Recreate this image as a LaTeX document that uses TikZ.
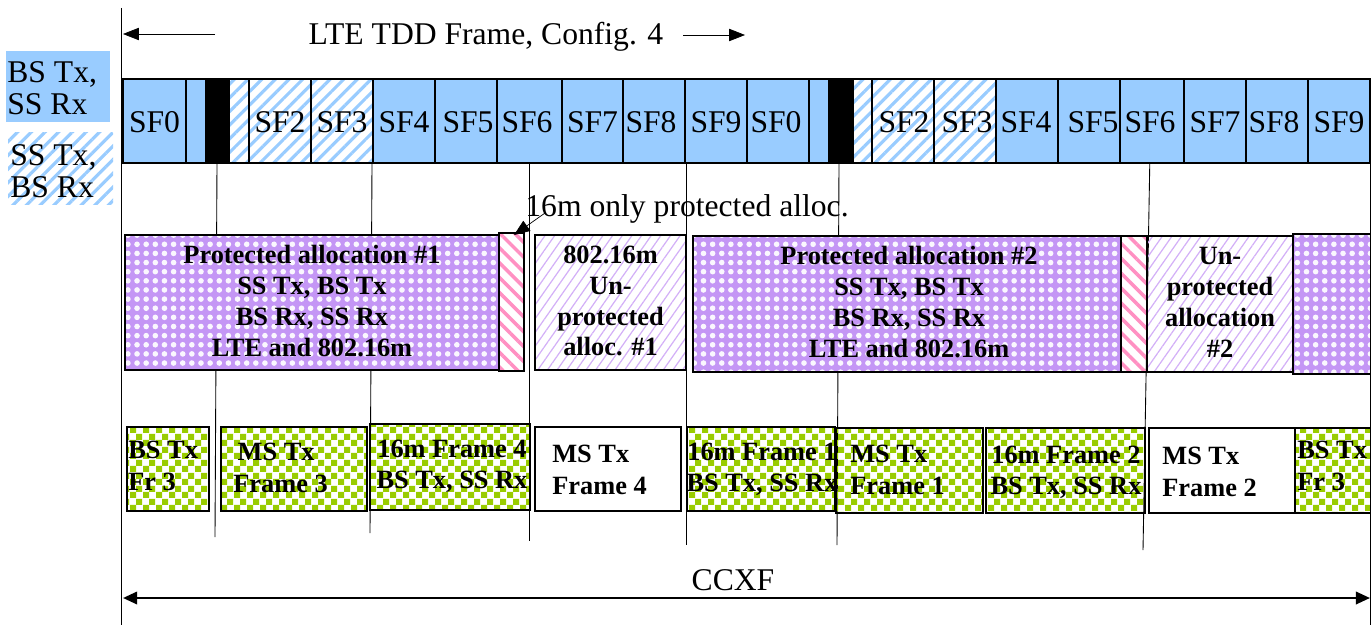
\documentclass[tikz,border=0pt]{standalone}
\usepackage{fontspec}
\setmainfont{Liberation Serif}
\usetikzlibrary{patterns,patterns.meta,arrows.meta}
\definecolor{sfblue}{HTML}{99CCFF}
\definecolor{allocpurple}{HTML}{C496F5}
\definecolor{hatchpurple}{HTML}{D3B0F7}
\definecolor{guardpink}{HTML}{FF90C2}
\definecolor{frgreen}{HTML}{99CC00}
\pgfdeclarepatternformonly{greenchecks}{\pgfpointorigin}{\pgfqpoint{7.4pt}{7.4pt}}{\pgfqpoint{7.4pt}{7.4pt}}{%
  \pgfpathrectangle{\pgfpointorigin}{\pgfqpoint{3.7pt}{3.7pt}}%
  \pgfpathrectangle{\pgfqpoint{3.7pt}{3.7pt}}{\pgfqpoint{3.7pt}{3.7pt}}%
  \pgfusepath{fill}}
\begin{document}
\begin{tikzpicture}[x=0.02cm,y=-0.02cm,
  dl/.style={draw,line width=0.8pt,fill=sfblue},
  ul/.style={draw,line width=0.8pt,pattern={Lines[angle=45,distance=5.5pt,line width=1.8pt]},pattern color=sfblue},
  gp/.style={draw,line width=0.8pt,fill=black},
  prot/.style={draw,line width=1.1pt,preaction={fill=allocpurple},pattern={Dots[radius=1.6pt,distance=5.2pt]},pattern color=white!92!allocpurple},
  unprot/.style={draw,line width=1.1pt,pattern={Lines[angle=55,distance=4.5pt,line width=0.7pt]},pattern color=hatchpurple},
  guard/.style={draw,line width=1.1pt,pattern={Lines[angle=-45,distance=6pt,line width=2pt]},pattern color=guardpink},
  chk/.style={draw,line width=1.1pt,pattern=greenchecks,pattern color=frgreen},
  plain/.style={draw,line width=1.1pt,fill=white},
  sflab/.style={inner sep=0pt,font=\fontsize{18}{18}\selectfont},
  boxlab/.style={inner sep=0pt,align=center,font=\fontsize{15}{17.6}\selectfont\bfseries},
  frlab/.style={inner sep=0pt,align=left,anchor=west,font=\fontsize{15}{17.8}\selectfont\bfseries},
  tick/.style={line width=0.5pt},
  tip/.style={-{Triangle[length=9pt,width=7pt]}}]
 \useasboundingbox (0,0) rectangle (1371,628);
 \draw[tick] (121,8) -- (121,625);
 \draw[tick] (217,163) -- (215,537);
 \draw[tick] (372,163) -- (370,533);
 \draw[tick] (529,163) -- (529,541);
 \draw[tick] (686,163) -- (686,545);
 \draw[tick] (839,163) -- (837,545);
 \draw[tick] (1150,150) -- (1143,550);
 \draw[tick] (1370,163) -- (1370,625);
 \fill[sfblue] (6,51) rectangle (110,122);
 \node[sflab,align=left,anchor=west] (lgdl) at (7,88) {BS Tx,\\SS Rx};
 \path[ul,draw=none] (8,133) rectangle (113,204);
 \node[sflab,align=left,anchor=west] (lgul) at (10,171) {SS Tx,\\BS Rx};
 \node[sflab] (title) at (486,37) {LTE TDD Frame, Config. 4};
 \coordinate (tla) at (215,34);
 \coordinate (tlb) at (123,34);
 \coordinate (tra) at (683,35);
 \coordinate (trb) at (745,35);
 \draw[tip] (tla) -- (tlb);
 \draw[tip] (tra) -- (trb);
 \draw[dl] (123,79) rectangle (186,163);
 \node[sflab] (sfa0) at (154.5,122) {SF0};
 \draw[dl] (186,79) rectangle (206,163);
 \draw[gp] (206,79) rectangle (229,163);
 \draw[ul] (229,79) rectangle (249,163);
 \draw[ul] (249,79) rectangle (311,163);
 \node[sflab] (sfa2) at (280,122) {SF2};
 \draw[ul] (311,79) rectangle (373,163);
 \node[sflab] (sfa3) at (342,122) {SF3};
 \draw[dl] (373,79) rectangle (435,163);
 \node[sflab] (sfa4) at (404,122) {SF4};
 \draw[dl] (435,79) rectangle (497,163);
 \node[sflab] (sfa5) at (468,122) {SF5};
 \draw[dl] (497,79) rectangle (562,163);
 \node[sflab] (sfa6) at (527,122) {SF6};
 \draw[dl] (562,79) rectangle (623,163);
 \node[sflab] (sfa7) at (592.5,122) {SF7};
 \draw[dl] (623,79) rectangle (685,163);
 \node[sflab] (sfa8) at (651,122) {SF8};
 \draw[dl] (685,79) rectangle (747,163);
 \node[sflab] (sfa9) at (716,122) {SF9};
 \draw[dl] (747,79) rectangle (809,163);
 \node[sflab] (sfb0) at (776,122) {SF0};
 \draw[dl] (809,79) rectangle (829,163);
 \draw[gp] (829,79) rectangle (853,163);
 \draw[ul] (853,79) rectangle (872,163);
 \draw[ul] (872,79) rectangle (934,163);
 \node[sflab] (sfb2) at (904,122) {SF2};
 \draw[ul] (934,79) rectangle (996,163);
 \node[sflab] (sfb3) at (967,122) {SF3};
 \draw[dl] (996,79) rectangle (1058,163);
 \node[sflab] (sfb4) at (1026,122) {SF4};
 \draw[dl] (1058,79) rectangle (1120,163);
 \node[sflab] (sfb5) at (1093,122) {SF5};
 \draw[dl] (1120,79) rectangle (1184,163);
 \node[sflab] (sfb6) at (1150,122) {SF6};
 \draw[dl] (1184,79) rectangle (1246,163);
 \node[sflab] (sfb7) at (1215,122) {SF7};
 \draw[dl] (1246,79) rectangle (1308,163);
 \node[sflab] (sfb8) at (1274,122) {SF8};
 \draw[dl] (1308,79) rectangle (1370,163);
 \node[sflab] (sfb9) at (1339,122) {SF9};
 \node[sflab] (onlyp) at (687,209) {16m only protected alloc.};
 \coordinate (onlyt) at (545,213);
 \coordinate (ga) at (514,235);
 \draw[prot] (125,235) rectangle (499,370);
 \node[boxlab] (pa1) at (312,301) {Protected allocation \#1\\SS Tx, BS Tx\\BS Rx, SS Rx\\LTE and 802.16m};
 \draw[guard] (499,233) rectangle (524,371);
 \draw[unprot] (535,235) rectangle (686,370);
 \node[boxlab] (ua1) at (610.5,301) {802.16m\\Un-\\protected\\alloc. \#1};
 \draw[prot] (693,236) rectangle (1121,372);
 \node[boxlab] (pa2) at (909,302) {Protected allocation \#2\\SS Tx, BS Tx\\BS Rx, SS Rx\\LTE and 802.16m};
 \draw[guard] (1121,236) rectangle (1147,372);
 \draw[unprot] (1147,236) rectangle (1293,372);
 \node[boxlab] (ua2) at (1220,302) {Un-\\protected\\allocation\\\#2};
 \draw[prot] (1293,234) rectangle (1371,374);
 \draw[tip] (onlyt) -- (ga);
 \draw[chk] (127,427) rectangle (209,511);
 \node[frlab] (fra) at (128,466) {BS Tx\\Fr 3};
 \draw[chk] (221,427) rectangle (367,511);
 \node[frlab] (ms3) at (233,468) {\,MS Tx\\Frame 3};
 \draw[chk] (370,424) rectangle (530,510);
 \node[boxlab] (fr4) at (452,466) {16m Frame 4\\BS Tx, SS Rx};
 \draw[plain] (535,427) rectangle (681,511);
 \node[frlab] (ms4) at (552,470) {MS Tx\\Frame 4};
 \draw[chk] (687,427) rectangle (835,511);
 \node[boxlab] (fr1) at (762,469) {16m Frame 1\\BS Tx, SS Rx};
 \draw[chk] (836,428) rectangle (983,513);
 \node[frlab] (ms1) at (850,470) {MS Tx\\Frame 1};
 \draw[chk] (986,428) rectangle (1145,513);
 \node[boxlab] (fr2) at (1066,472) {16m Frame 2\\BS Tx, SS Rx};
 \draw[plain] (1149,428) rectangle (1295,513);
 \node[frlab] (ms2) at (1162,472) {MS Tx\\Frame 2};
 \draw[chk] (1295,428) rectangle (1371,513);
 \node[frlab] (frb) at (1297,466) {BS Tx\\Fr 3};
 \node[sflab] (ccxf) at (733,580) {CCXF};
 \coordinate (cca) at (123,598);
 \coordinate (ccb) at (1370,598);
 \draw[line width=1.4pt,{Triangle[length=8pt,width=7pt]}-{Triangle[length=8pt,width=7pt]}] (cca) -- (ccb);
\end{tikzpicture}
\end{document}
